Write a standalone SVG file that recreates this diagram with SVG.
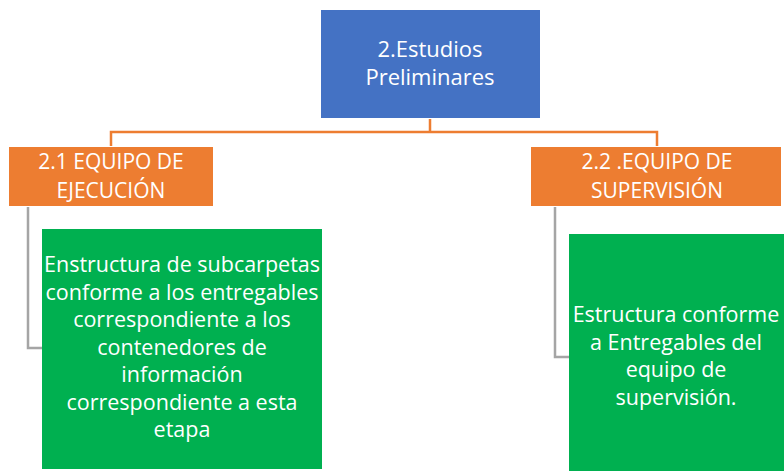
<svg xmlns="http://www.w3.org/2000/svg" width="784" height="471" viewBox="0 0 784 471">
<style>
.t{font-family:"Open Sans","Liberation Sans",sans-serif;font-size:21.5px;fill:#fff;text-anchor:middle}
.h{font-size:22px}
.o{font-size:21px}
.oc{stroke:#ED7D31;stroke-width:2.5;fill:none}
.gc{stroke:#A5A5A5;stroke-width:2.5;fill:none}
</style>
<rect width="784" height="471" fill="#fff"/>
<g id="connectors">
<path class="oc" d="M430 119V132M111 146V132H657V146"/>
<path class="gc" d="M28 207V348H42"/>
<path class="gc" d="M555 207V357H569"/>
</g>
<g id="n2">
<rect x="321" y="10" width="219" height="108" fill="#4472C4"/>
<text class="t h" x="430" y="57">2.Estudios</text>
<text class="t h" x="430" y="85">Preliminares</text>
</g>
<g id="n21">
<rect x="9" y="147" width="204" height="59" fill="#ED7D31"/>
<text class="t o" x="111" y="169">2.1 EQUIPO DE</text>
<text class="t o" x="111" y="198">EJECUCIÓN</text>
</g>
<g id="n22">
<rect x="531" y="147" width="250" height="59" fill="#ED7D31"/>
<text class="t o" x="657" y="169">2.2 .EQUIPO DE</text>
<text class="t o" x="657" y="198">SUPERVISIÓN</text>
</g>
<g id="n21a">
<rect x="42" y="229" width="280" height="240" fill="#00B050"/>
<text class="t" x="182" y="272">Enstructura de subcarpetas</text>
<text class="t" x="182" y="299.5">conforme a los entregables</text>
<text class="t" x="182" y="327">correspondiente a los</text>
<text class="t" x="182" y="354.5">contenedores de</text>
<text class="t" x="182" y="382">información</text>
<text class="t" x="182" y="409.5">correspondiente a esta</text>
<text class="t" x="182" y="437">etapa</text>
</g>
<g id="n22a">
<rect x="569" y="234" width="215" height="237" fill="#00B050"/>
<text class="t" x="676" y="322">Estructura conforme</text>
<text class="t" x="676" y="350">a Entregables del</text>
<text class="t" x="676" y="377">equipo de</text>
<text class="t" x="676" y="405">supervisión.</text>
</g>
</svg>
